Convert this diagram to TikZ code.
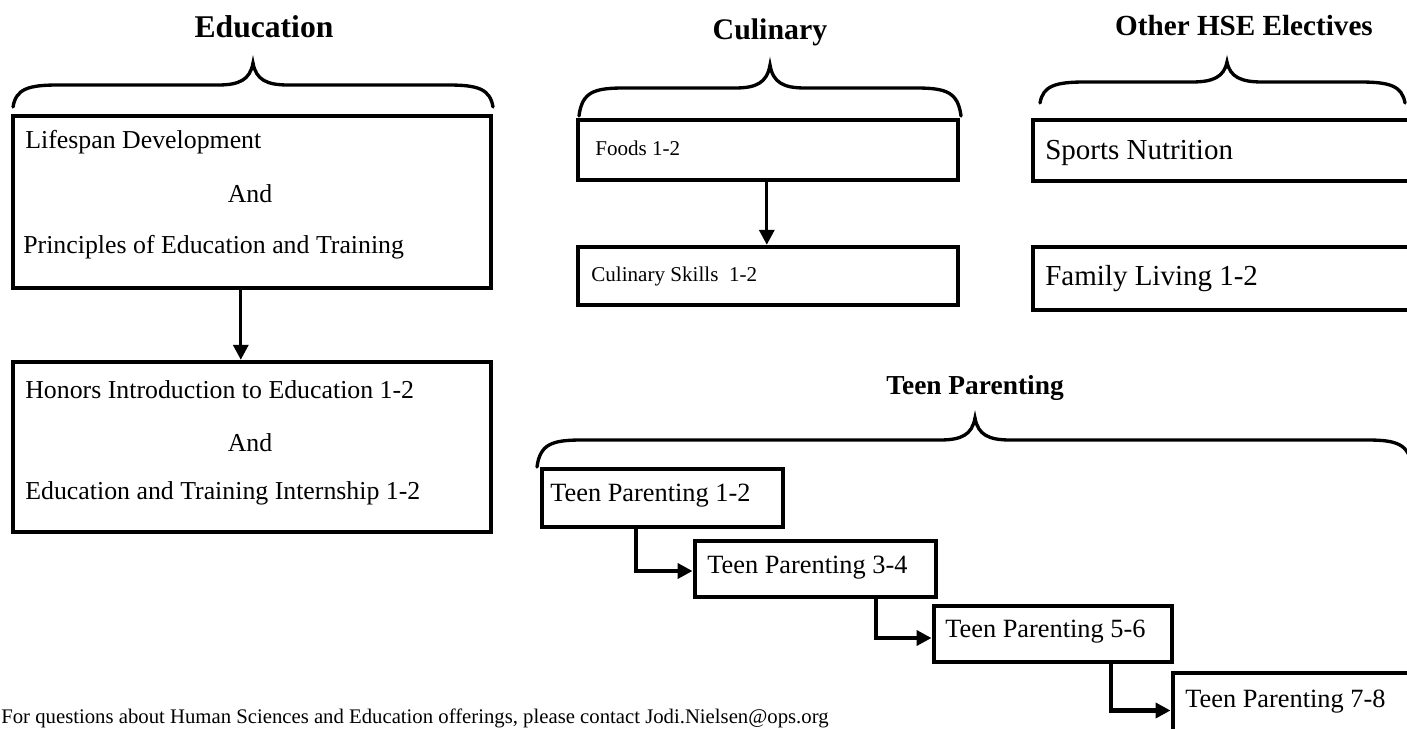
\documentclass[tikz,border=0pt]{standalone}
\usepackage{fontspec}
\setmainfont{Liberation Serif}
\usetikzlibrary{arrows.meta,fit,calc}
\newcommand\hbrace[6]{% x1, x2, xm, yend, yh, ytip
  \draw[brace] (#1,#4) .. controls ({#1+3},{#5+4}) and ({#1+15},#5) .. ({#1+45},#5)
    -- ({#3-35},#5) .. controls ({#3-14},#5) and ({#3-3},{#5-5}) .. (#3,#6)
    .. controls ({#3+3},{#5-5}) and ({#3+14},#5) .. ({#3+35},#5)
    -- ({#2-45},#5) .. controls ({#2-15},#5) and ({#2-3},{#5+4}) .. (#2,#4);}
\begin{document}
\begin{tikzpicture}[x=0.02cm,y=-0.02cm,
  box/.style={draw, line width=2.5pt, inner sep=0pt},
  tbox/.style={draw, line width=2.8pt, inner sep=0pt},
  txt/.style={inner sep=0pt, anchor=west},
  edutxt/.style={txt, font=\fontsize{14.7}{17}\selectfont},
  cultxt/.style={txt, font=\fontsize{12}{14}\selectfont},
  hsetxt/.style={txt, font=\fontsize{16.5}{19}\selectfont},
  teentxt/.style={txt, font=\fontsize{15}{18}\selectfont},
  ttl/.style={inner sep=0pt},
  brace/.style={line width=1.9pt, line cap=round},
  arr/.style={line width=1.9pt, -{Triangle[length=8.5pt,width=8.5pt]}},
  elbow/.style={line width=2.3pt, -{Triangle[length=8.5pt,width=8.5pt]}},
]
\clip (0,0) rectangle (1407,729);
\fill[white] (0,0) rectangle (1407,729);

% ---- Titles
\node[ttl, font=\bfseries\fontsize{18}{21}\selectfont] (tEdu) at (264,27) {Education};
\node[ttl, font=\bfseries\fontsize{17}{20}\selectfont] (tCul) at (770,32) {Culinary};
\node[ttl, font=\bfseries\fontsize{16.6}{20}\selectfont] (tHse) at (1244,26) {Other HSE Electives};
\node[ttl, font=\bfseries\fontsize{15.6}{19}\selectfont] (tTeen) at (975,388) {Teen Parenting};

% ---- Braces
\hbrace{13}{493}{253}{107}{85}{63}
\hbrace{579}{961}{770}{116}{88}{65}
\hbrace{1040}{1405}{1227}{103}{82}{62}
\hbrace{537}{1412}{975}{467}{440}{418}

% ---- Education
\node[box, fit={(13,116) (491,288)}] (edu1) {};
\node[edutxt] (e1a) at (25,142) {Lifespan Development};
\node[edutxt, anchor=center] (e1b) at (250,194) {And};
\node[edutxt] (e1c) at (23,247) {Principles of Education and Training};
\node[box, fit={(13,362) (491,532)}] (edu2) {};
\node[edutxt] (e2a) at (25,390) {Honors Introduction to Education 1-2};
\node[edutxt, anchor=center] (e2b) at (250,443) {And};
\node[edutxt] (e2c) at (25,493) {Education and Training Internship 1-2};
\draw[arr] ($(edu1.south west)+(230,0)$) -- ($(edu2.north west)+(230,0)$);

% ---- Culinary
\node[box, fit={(578,120) (958,180)}] (foods) {};
\node[cultxt] (foodsT) at (595,148) {Foods 1-2};
\node[box, fit={(578,247) (958,305)}] (culsk) {};
\node[cultxt] (culskT) at (591,276) {Culinary Skills~~1-2};
\draw[arr] ($(foods.south west)+(191,0)$) -- ($(culsk.north west)+(191,0)$);

% ---- Other HSE
\node[box, fit={(1033,120) (1430,181)}] (sports) {};
\node[hsetxt] (sportsT) at (1045,153) {Sports Nutrition};
\node[box, fit={(1033,247) (1430,310)}] (family) {};
\node[hsetxt] (familyT) at (1045,279) {Family Living 1-2};

% ---- Teen Parenting
\node[tbox, fit={(542,469) (783,527)}] (tp1) {};
\node[teentxt] (tp1T) at (550,496) {Teen Parenting 1-2};
\node[tbox, fit={(695,541) (936,597)}] (tp2) {};
\node[teentxt] (tp2T) at (707,568) {Teen Parenting 3-4};
\node[tbox, fit={(934,606) (1172,662)}] (tp3) {};
\node[teentxt] (tp3T) at (945,632) {Teen Parenting 5-6};
\node[tbox, fit={(1173,673) (1430,740)}] (tp4) {};
\node[teentxt] (tp4T) at (1185,702) {Teen Parenting 7-8};
\draw[elbow] ($(tp1.south west)+(96,0)$) |- ($(tp2.west)+(0,2)$);
\draw[elbow] ($(tp2.south west)+(183,0)$) |- ($(tp3.west)+(0,4)$);
\draw[elbow] ($(tp3.south west)+(179,0)$) |- ($(tp4.west)+(0,4)$);

% ---- Footer
\node[inner sep=0pt, anchor=north west, font=\fontsize{11.8}{14}\selectfont] (foot) at (1,709)
  {For questions about Human Sciences and Education offerings, please contact Jodi.Nielsen@ops.org};
\end{tikzpicture}
\end{document}
